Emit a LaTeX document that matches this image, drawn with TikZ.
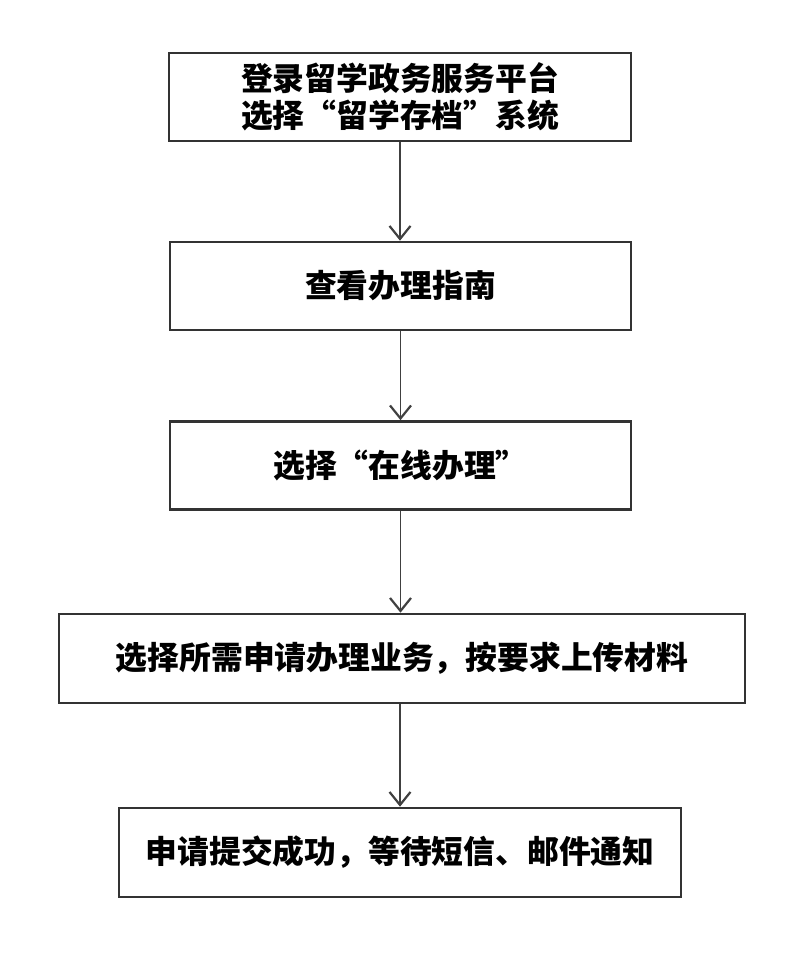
\documentclass[tikz,border=0pt]{standalone}
\usepackage{fontspec}
\usepackage{tikz}
\usetikzlibrary{arrows.meta}
\newfontfamily\cjk{Noto Sans CJK SC}

\begin{document}
\begin{tikzpicture}[x=0.5pt,y=-0.5pt,
  stepbox/.style={draw=black!80, line width=1.3pt, minimum height=44pt, inner sep=0pt,
    align=center, font=\cjk\bfseries\fontsize{15.9pt}{18.5pt}\selectfont},
  flow/.style={draw=black!75, line width=0.8pt, -{Straight Barb[length=6.5pt,width=10.5pt,line width=1.1pt]}}]
\useasboundingbox (0,0) rectangle (808,968);

\node[stepbox, minimum width=231pt] (login) at (400,97) {登录留学政务服务平台\\选择“留学存档”系统};
\node[stepbox, minimum width=230.5pt] (guide) at (400.5,286) {查看办理指南};
\node[stepbox, minimum width=230.5pt] (online) at (400.5,465.5) {选择“在线办理”};
\node[stepbox, minimum width=343pt, minimum height=44.5pt] (upload) at (402,658.5) {选择所需申请办理业务，按要求上传材料};
\node[stepbox, minimum width=281pt, minimum height=44.5pt] (submit) at (400,852.5) {申请提交成功，等待短信、邮件通知};

\draw[flow] (login.south) -- (login.south |- guide.north);
\draw[flow] (guide.south) -- (guide.south |- online.north);
\draw[flow] (online.south) -- (online.south |- upload.north);
\draw[flow] (upload.south -| submit.north) -- (submit.north);
\end{tikzpicture}
\end{document}
